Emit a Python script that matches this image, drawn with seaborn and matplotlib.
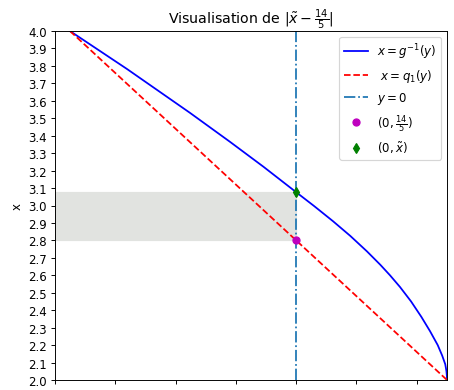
import matplotlib
matplotlib.use("Agg")
import matplotlib.pyplot as plt
import seaborn as sns
import numpy as np

# values (horizontal axis = y, vertical axis = x)
g_inv_y = [-1.876, -1.402, -0.880, -0.548, -0.270, 0.0, 0.150, 0.307, 0.450, 0.589,
           0.700, 0.780, 0.863, 0.955, 1.040, 1.112, 1.176, 1.213, 1.2386, 1.2485, 1.2523, 1.253]
g_inv_x = [4.000, 3.782, 3.531, 3.365, 3.222, 3.077, 2.997, 2.910, 2.826, 2.737,
           2.660, 2.600, 2.533, 2.450, 2.362, 2.280, 2.200, 2.140, 2.090, 2.050, 2.020, 2.000]

q1_y = [-1.876, 1.253]
q1_x = [4.0, 2.0]

x_fixed = 14 / 5
x_tilde = 3.08

DPI = 85
fig = plt.figure(figsize=(454 / DPI, 391 / DPI), dpi=DPI)
ax = fig.add_axes([55 / 454, 10 / 391, 392 / 454, 349 / 391])

# shaded band between 14/5 and x tilde
ax.fill_betweenx([x_fixed, x_tilde], -2.0, 0.0, color="#e1e3e0")

sns.lineplot(x=g_inv_y, y=g_inv_x, ax=ax, color="blue", sort=False, estimator=None,
             label=r"$x=g^{-1}(y)$")
sns.lineplot(x=q1_y, y=q1_x, ax=ax, color="red", linestyle="--", sort=False, estimator=None,
             label=r" $x=q_1(y)$")
ax.axvline(0, color="C0", linestyle="-.", label=r"$y=0$")
ax.plot([0], [x_fixed], "mo", label=r"$(0,\frac{14}{5})$")
ax.plot([0], [x_tilde], "gd", label=r"$(0,\tilde{x})$")

ax.set_xlim(-2.0, 1.253)
ax.set_ylim(2.0, 4.0)
ax.set_xticks(np.arange(-2.0, 1.01, 0.5))
ax.set_yticks(np.arange(2.0, 4.001, 0.1))
ax.yaxis.set_major_formatter(matplotlib.ticker.FormatStrFormatter("%.1f"))
ax.tick_params(axis="x", labelbottom=False)
ax.set_ylabel("x")
ax.set_title(r"Visualisation de $|\tilde{x}-\frac{14}{5}|$")
ax.legend(loc="upper right")

fig.savefig("out.png", dpi=DPI)
